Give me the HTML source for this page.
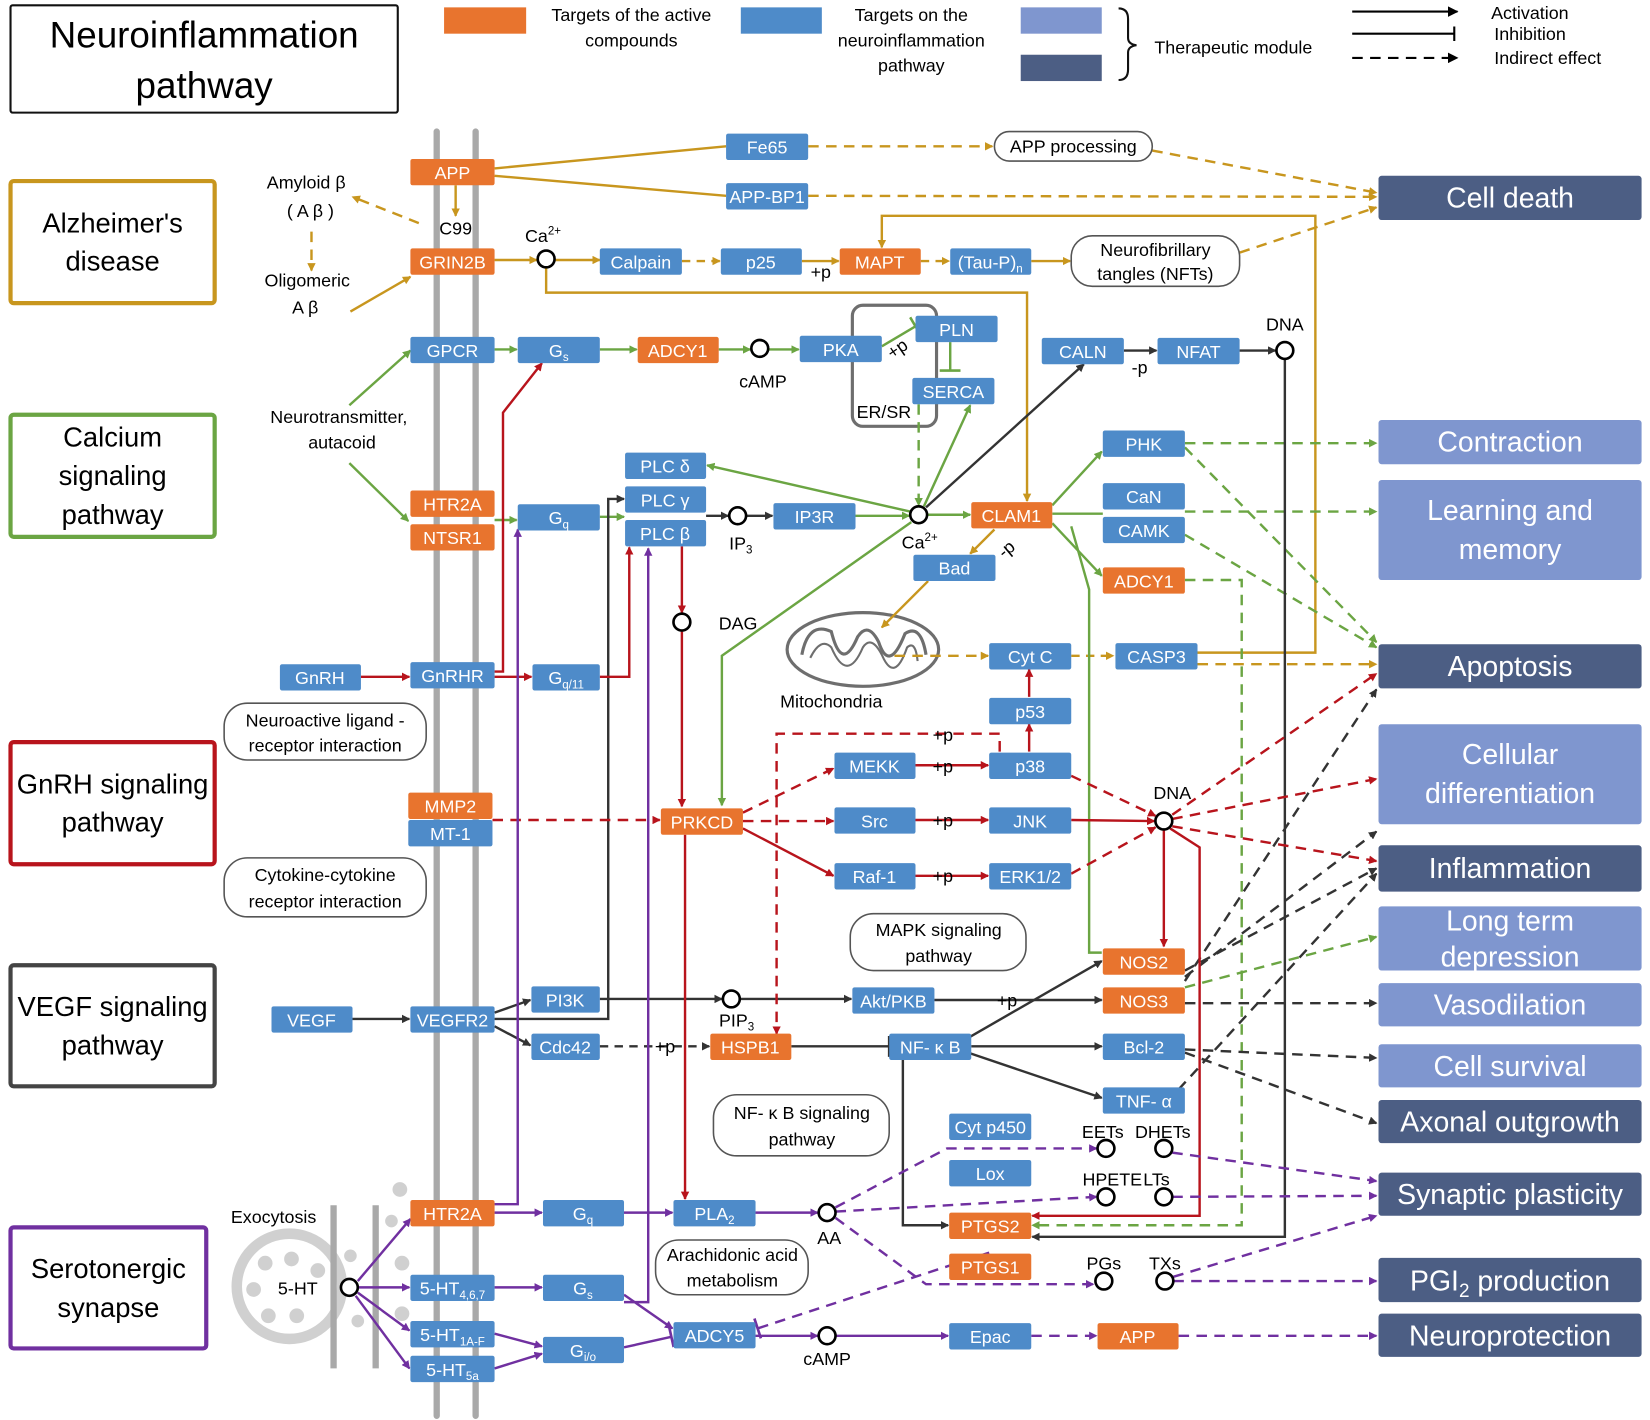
<!DOCTYPE html>
<html><head><meta charset="utf-8"><style>
html,body{margin:0;padding:0;background:#fff}
svg{display:block}
text{font-family:"Liberation Sans",sans-serif}
.n text{}
</style></head><body>
<svg width="1650" height="1420" viewBox="0 0 1568 1349" preserveAspectRatio="none" xmlns="http://www.w3.org/2000/svg">
<defs>
<marker id="aG" markerWidth="8" markerHeight="8" refX="7" refY="4" orient="auto" markerUnits="userSpaceOnUse"><path d="M0,0L8,4L0,8z" fill="#C8961E"/></marker>
<marker id="aN" markerWidth="8" markerHeight="8" refX="7" refY="4" orient="auto" markerUnits="userSpaceOnUse"><path d="M0,0L8,4L0,8z" fill="#6BA543"/></marker>
<marker id="aR" markerWidth="8" markerHeight="8" refX="7" refY="4" orient="auto" markerUnits="userSpaceOnUse"><path d="M0,0L8,4L0,8z" fill="#B8141C"/></marker>
<marker id="aK" markerWidth="8" markerHeight="8" refX="7" refY="4" orient="auto" markerUnits="userSpaceOnUse"><path d="M0,0L8,4L0,8z" fill="#333"/></marker>
<marker id="aP" markerWidth="8" markerHeight="8" refX="7" refY="4" orient="auto" markerUnits="userSpaceOnUse"><path d="M0,0L8,4L0,8z" fill="#7030A0"/></marker>
<marker id="iN" markerWidth="4" markerHeight="20" refX="2" refY="10" orient="auto" markerUnits="userSpaceOnUse"><path d="M2,0V20" stroke="#6BA543" stroke-width="2.5"/></marker>
<marker id="iK" markerWidth="4" markerHeight="20" refX="2" refY="10" orient="auto" markerUnits="userSpaceOnUse"><path d="M2,0V20" stroke="#333" stroke-width="2.5"/></marker>
<marker id="iP" markerWidth="4" markerHeight="20" refX="2" refY="10" orient="auto" markerUnits="userSpaceOnUse"><path d="M2,0V20" stroke="#7030A0" stroke-width="2.5"/></marker>
<marker id="aL" markerWidth="10" markerHeight="10" refX="9" refY="5" orient="auto" markerUnits="userSpaceOnUse"><path d="M0,0L10,5L0,10z" fill="#000"/></marker>
<marker id="iL" markerWidth="4" markerHeight="14" refX="2" refY="7" orient="auto" markerUnits="userSpaceOnUse"><path d="M2,0V14" stroke="#000" stroke-width="2"/></marker>
</defs>

<!-- title -->
<rect x="10" y="5" width="368" height="102" fill="#fff" stroke="#111" stroke-width="2" rx="2"/>
<text x="194" y="45" font-size="35" text-anchor="middle">Neuroinflammation</text>
<text x="194" y="93" font-size="35" text-anchor="middle">pathway</text>

<!-- legend -->
<rect x="422" y="7" width="78" height="25" fill="#E8742E"/>
<text x="600" y="20" font-size="17" text-anchor="middle">Targets of the active</text>
<text x="600" y="44" font-size="17" text-anchor="middle">compounds</text>
<rect x="704" y="7" width="77" height="25" fill="#4E8BC9"/>
<text x="866" y="20" font-size="17" text-anchor="middle">Targets on the</text>
<text x="866" y="44" font-size="17" text-anchor="middle">neuroinflammation</text>
<text x="866" y="68" font-size="17" text-anchor="middle">pathway</text>
<rect x="970" y="7" width="77" height="25" fill="#7F96CF"/>
<rect x="970" y="52" width="77" height="25" fill="#4C5E84"/>
<path d="M1063,8 Q1072,8 1072,18 V36 Q1072,42 1080,43 Q1072,44 1072,50 V66 Q1072,76 1063,76" fill="none" stroke="#111" stroke-width="2"/>
<text x="1097" y="51" font-size="17">Therapeutic module</text>
<line x1="1285" y1="11" x2="1385" y2="11" stroke="#000" stroke-width="2" marker-end="url(#aL)"/>
<line x1="1285" y1="32" x2="1382" y2="32" stroke="#000" stroke-width="2" marker-end="url(#iL)"/>
<line x1="1285" y1="55" x2="1385" y2="55" stroke="#000" stroke-width="2" stroke-dasharray="10,7" marker-end="url(#aL)"/>
<text x="1417" y="18" font-size="17">Activation</text>
<text x="1420" y="38" font-size="17">Inhibition</text>
<text x="1420" y="61" font-size="17">Indirect  effect</text>

<!-- membranes -->
<line x1="415" y1="125" x2="415" y2="1345" stroke="#A9A9A9" stroke-width="6" stroke-linecap="round"/>
<line x1="452" y1="125" x2="452" y2="1345" stroke="#A9A9A9" stroke-width="6" stroke-linecap="round"/>

<!-- left pathway boxes -->
<g font-size="26" text-anchor="middle" fill="#fff" stroke-width="4">
<rect x="10" y="172" width="194" height="116" stroke="#C8961E" rx="3"/>
<rect x="10" y="394" width="194" height="116" stroke="#6BA543" rx="3"/>
<rect x="10" y="705" width="194" height="116" stroke="#B8141C" rx="3"/>
<rect x="10" y="917" width="194" height="115" stroke="#444" rx="3"/>
<rect x="10" y="1166" width="186" height="115" stroke="#7030A0" rx="3"/>
</g>
<g font-size="26" text-anchor="middle">
<text x="107" y="221">Alzheimer's</text><text x="107" y="257">disease</text>
<text x="107" y="424">Calcium</text><text x="107" y="461">signaling</text><text x="107" y="498">pathway</text>
<text x="107" y="754">GnRH signaling</text><text x="107" y="790">pathway</text>
<text x="107" y="965">VEGF signaling</text><text x="107" y="1002">pathway</text>
<text x="103" y="1214">Serotonergic</text><text x="103" y="1251">synapse</text>
</g>

<!-- outcome modules -->
<g>
<rect x="1310" y="167" width="250" height="42" fill="#4C5E84" rx="3"/>
<rect x="1310" y="399" width="250" height="42" fill="#7F96CF" rx="3"/>
<rect x="1310" y="456" width="250" height="95" fill="#7F96CF" rx="3"/>
<rect x="1310" y="612" width="250" height="42" fill="#4C5E84" rx="3"/>
<rect x="1310" y="688" width="250" height="95" fill="#7F96CF" rx="3"/>
<rect x="1310" y="803" width="250" height="44" fill="#4C5E84" rx="3"/>
<rect x="1310" y="861" width="250" height="61" fill="#7F96CF" rx="3"/>
<rect x="1310" y="934" width="250" height="41" fill="#7F96CF" rx="3"/>
<rect x="1310" y="992" width="250" height="41" fill="#7F96CF" rx="3"/>
<rect x="1310" y="1045" width="250" height="41" fill="#4C5E84" rx="3"/>
<rect x="1310" y="1114" width="250" height="41" fill="#4C5E84" rx="3"/>
<rect x="1310" y="1195" width="250" height="42" fill="#4C5E84" rx="3"/>
<rect x="1310" y="1248" width="250" height="41" fill="#4C5E84" rx="3"/>
</g>
<g font-size="27" fill="#fff" text-anchor="middle">
<text x="1435" y="197">Cell death</text>
<text x="1435" y="429">Contraction</text>
<text x="1435" y="494">Learning and</text><text x="1435" y="531">memory</text>
<text x="1435" y="642">Apoptosis</text>
<text x="1435" y="726">Cellular</text><text x="1435" y="763">differentiation</text>
<text x="1435" y="834">Inflammation</text>
<text x="1435" y="884">Long term</text><text x="1435" y="918">depression</text>
<text x="1435" y="964">Vasodilation</text>
<text x="1435" y="1022">Cell survival</text>
<text x="1435" y="1075">Axonal outgrowth</text>
<text x="1435" y="1144">Synaptic plasticity</text>
<text x="1435" y="1226">PGI<tspan font-size="18" dy="6">2</tspan><tspan dy="-6"> production</tspan></text>
<text x="1435" y="1278">Neuroprotection</text>
</g>

<!-- ER/SR -->
<rect x="810" y="290" width="80" height="115" rx="10" fill="none" stroke="#6E6E6E" stroke-width="3"/>
<text x="814" y="397" font-size="17">ER/SR</text>

<!-- mitochondria -->
<ellipse cx="820" cy="617" rx="72" ry="35" fill="none" stroke="#6E6E6E" stroke-width="3"/>
<path d="M762,622 Q768,590 790,600 Q800,640 815,605 Q825,590 835,610 Q845,640 860,602 Q875,592 880,622" fill="none" stroke="#6E6E6E" stroke-width="3"/>
<path d="M770,625 Q780,605 790,615 Q805,650 820,615 Q828,603 838,622 Q850,650 862,615 Q870,608 872,628" fill="none" stroke="#6E6E6E" stroke-width="2"/>
<text x="790" y="672" font-size="17" text-anchor="middle">Mitochondria</text>

<!-- exocytosis -->
<circle cx="275" cy="1222" r="50" fill="#fff" stroke="#D0D0D0" stroke-width="10"/>
<g fill="#D0D0D0"><circle cx="252" cy="1200" r="7"/><circle cx="277" cy="1196" r="7"/><circle cx="241" cy="1225" r="7"/><circle cx="255" cy="1250" r="7"/><circle cx="282" cy="1250" r="7"/><circle cx="302" cy="1207" r="7"/>
<circle cx="380" cy="1130" r="7"/><circle cx="372" cy="1160" r="6"/><circle cx="333" cy="1193" r="6"/><circle cx="382" cy="1200" r="7"/><circle cx="382" cy="1248" r="7"/><circle cx="340" cy="1255" r="6"/></g>
<line x1="317" y1="1145" x2="317" y2="1300" stroke="#A9A9A9" stroke-width="6"/>
<line x1="357" y1="1145" x2="357" y2="1300" stroke="#A9A9A9" stroke-width="6"/>
<text x="260" y="1162" font-size="17" text-anchor="middle">Exocytosis</text>

<!-- ===== EDGES ===== -->
<g fill="none" stroke-width="2.3">
<!-- gold -->
<g stroke="#C8961E">
<path d="M470,160L690,139" /><path d="M470,167L690,186"/>
<path d="M768,139L943,139" stroke-dasharray="10,7" marker-end="url(#aG)"/>
<path d="M1095,143L1308,183" stroke-dasharray="10,7" marker-end="url(#aG)"/>
<path d="M768,186L1308,187" stroke-dasharray="10,7" marker-end="url(#aG)"/>
<path d="M433,176V205" marker-end="url(#aG)"/>
<path d="M398,212L335,187" stroke-dasharray="10,7" marker-end="url(#aG)"/>
<path d="M296,220V257" stroke-dasharray="10,7" marker-end="url(#aG)"/>
<path d="M333,296L390,263" marker-end="url(#aG)"/>
<path d="M470,247H510" marker-end="url(#aG)"/>
<path d="M528,247H570" marker-end="url(#aG)"/>
<path d="M648,248H684" stroke-dasharray="8,6" marker-end="url(#aG)"/>
<path d="M762,248H797" marker-end="url(#aG)"/>
<path d="M875,248H902" stroke-dasharray="8,6" marker-end="url(#aG)"/>
<path d="M980,248H1017" marker-end="url(#aG)"/>
<path d="M1178,240L1308,197" stroke-dasharray="10,7" marker-end="url(#aG)"/>
<path d="M519,255V278H976V476" marker-end="url(#aG)"/>
<path d="M1138,620H1250V205H838V235" marker-end="url(#aG)"/>
<path d="M1018,623H1058" stroke-dasharray="8,6" marker-end="url(#aG)"/>
<path d="M850,623H939" stroke-dasharray="10,7" marker-end="url(#aG)"/>
<path d="M945,503L922,526" marker-end="url(#aG)"/>
<path d="M882,552L838,596" marker-end="url(#aG)"/>
<path d="M1138,631L1308,631" stroke-dasharray="10,7" marker-end="url(#aG)"/>
</g>
<!-- green -->
<g stroke="#6BA543">
<path d="M332,385L390,333" marker-end="url(#aN)"/>
<path d="M332,440L388,495" marker-end="url(#aN)"/>
<path d="M470,332H491" marker-end="url(#aN)"/>
<path d="M570,332H605" marker-end="url(#aN)"/>
<path d="M683,332H713" marker-end="url(#aN)"/>
<path d="M730,332H759" marker-end="url(#aN)"/>
<path d="M838,329L870,310" marker-end="url(#iN)"/>
<path d="M903,325V352" marker-end="url(#iN)"/>
<path d="M873,384V480" stroke-dasharray="10,7" marker-end="url(#aN)"/>
<path d="M878,481L922,385" marker-end="url(#aN)"/>
<path d="M865,486L672,442" marker-end="url(#aN)"/>
<path d="M881,489H922" marker-end="url(#aN)"/>
<path d="M813,490H864" marker-end="url(#aN)"/>
<path d="M570,491H593" marker-end="url(#aN)"/>
<path d="M470,494H491" marker-end="url(#aN)"/>
<path d="M1000,480L1047,429" marker-end="url(#aN)"/>
<path d="M1000,488H1048"/>
<path d="M1000,497L1047,547" marker-end="url(#aN)"/>
<path d="M1018,500L1035,560V905H1047" />
<path d="M866,496L686,623V765" marker-end="url(#aN)"/>
<path d="M1126,421H1308" stroke-dasharray="10,7" marker-end="url(#aN)"/>
<path d="M1126,486H1308" stroke-dasharray="10,7" marker-end="url(#aN)"/>
<path d="M1126,425L1308,610" stroke-dasharray="10,7" marker-end="url(#aN)"/>
<path d="M1126,508L1308,615" stroke-dasharray="10,7" marker-end="url(#aN)"/>
<path d="M1126,551H1180V1164H981" stroke-dasharray="10,7" marker-end="url(#aN)"/>
<path d="M1126,938L1308,890" stroke-dasharray="10,7" marker-end="url(#aN)"/>
</g>
<!-- dark -->
<g stroke="#333">
<path d="M880,482L1030,346" marker-end="url(#aK)"/>
<path d="M1068,333H1099" marker-end="url(#aK)"/>
<path d="M1178,333H1212" marker-end="url(#aK)"/>
<path d="M1221,341V1175H981" marker-end="url(#aK)"/>
<path d="M671,490H692" marker-end="url(#aK)"/>
<path d="M709,490H734" marker-end="url(#aK)"/>
<path d="M335,968H389" marker-end="url(#aK)"/>
<path d="M470,962L504,950" marker-end="url(#aK)"/>
<path d="M470,975L504,993" marker-end="url(#aK)"/>
<path d="M470,968H578V474H593" marker-end="url(#aK)"/>
<path d="M570,949H686" marker-end="url(#aK)"/>
<path d="M703,949H809" marker-end="url(#aK)"/>
<path d="M888,950H1047" marker-end="url(#aK)"/>
<path d="M570,994H674" stroke-dasharray="8,6" marker-end="url(#aK)"/>
<path d="M752,994H845" marker-end="url(#iK)"/>
<path d="M920,986L1047,913" marker-end="url(#aK)"/>
<path d="M923,994H1047" marker-end="url(#aK)"/>
<path d="M920,1000L1047,1043" marker-end="url(#aK)"/>
<path d="M858,1007V1164H901" marker-end="url(#aK)"/>
<g stroke-dasharray="10,7">
<path d="M1126,932L1308,655" marker-end="url(#aK)"/>
<path d="M1126,928L1308,790" marker-end="url(#aK)"/>
<path d="M1126,922L1308,825" marker-end="url(#aK)"/>
<path d="M1120,1035L1308,830" marker-end="url(#aK)"/>
<path d="M1126,953H1308" marker-end="url(#aK)"/>
<path d="M1126,997L1308,1005" marker-end="url(#aK)"/>
<path d="M1126,1000L1308,1067" marker-end="url(#aK)"/>
</g>
</g>
<!-- red -->
<g stroke="#B8141C">
<path d="M343,643H389" marker-end="url(#aR)"/>
<path d="M470,638H478V392L515,345" marker-end="url(#aR)"/>
<path d="M470,643H505" marker-end="url(#aR)"/>
<path d="M570,643H598V520" marker-end="url(#aR)"/>
<path d="M648,519V582" marker-end="url(#aR)"/>
<path d="M648,600V766" marker-end="url(#aR)"/>
<path d="M468,779H627" stroke-dasharray="10,7" marker-end="url(#aR)"/>
<path d="M706,772L792,730" stroke-dasharray="10,7" marker-end="url(#aR)"/>
<path d="M706,780H792" stroke-dasharray="10,7" marker-end="url(#aR)"/>
<path d="M706,787L792,832" marker-end="url(#aR)"/>
<path d="M950,714V697H738V982" stroke-dasharray="10,7" marker-end="url(#aR)"/>
<path d="M870,727H939" marker-end="url(#aR)"/>
<path d="M870,779H939" marker-end="url(#aR)"/>
<path d="M870,832H939" marker-end="url(#aR)"/>
<path d="M978,714V688" marker-end="url(#aR)"/>
<path d="M978,662V636" marker-end="url(#aR)"/>
<path d="M1018,737L1098,775" stroke-dasharray="10,7" marker-end="url(#aR)"/>
<path d="M1018,779L1097,780" marker-end="url(#aR)"/>
<path d="M1018,830L1098,786" stroke-dasharray="10,7" marker-end="url(#aR)"/>
<path d="M1106,789V899" marker-end="url(#aR)"/>
<path d="M1112,787L1140,805V1155H981" marker-end="url(#aR)"/>
<path d="M651,793V1139" marker-end="url(#aR)"/>
<g stroke-dasharray="10,7">
<path d="M1114,774L1308,640" marker-end="url(#aR)"/>
<path d="M1114,778L1308,740" marker-end="url(#aR)"/>
<path d="M1114,785L1308,818" marker-end="url(#aR)"/>
</g>
</g>
<!-- purple -->
<g stroke="#7030A0">
<path d="M470,1152H515" marker-end="url(#aP)"/>
<path d="M593,1152H639" marker-end="url(#aP)"/>
<path d="M718,1152H777" marker-end="url(#aP)"/>
<path d="M470,1144H492V503" marker-end="url(#aP)"/>
<path d="M593,1237H616V521" marker-end="url(#aP)"/>
<path d="M340,1217L390,1158" marker-end="url(#aP)"/>
<path d="M341,1223H389" marker-end="url(#aP)"/>
<path d="M340,1228L389,1264" marker-end="url(#aP)"/>
<path d="M338,1231L389,1300" marker-end="url(#aP)"/>
<path d="M470,1223H515" marker-end="url(#aP)"/>
<path d="M470,1267L515,1279" marker-end="url(#aP)"/>
<path d="M470,1300L515,1286" marker-end="url(#aP)"/>
<path d="M593,1230L639,1262" marker-end="url(#aP)"/>
<path d="M593,1280L638,1270" marker-end="url(#iP)"/>
<path d="M718,1269H777" marker-end="url(#aP)"/>
<path d="M794,1269H901" marker-end="url(#aP)"/>
<g stroke-dasharray="10,7">
<path d="M980,1269H1042" marker-end="url(#aP)"/>
<path d="M1120,1269H1308" marker-end="url(#aP)"/>
<path d="M794,1147L900,1091H1042" marker-end="url(#aP)"/>
<path d="M794,1151L1042,1137" marker-end="url(#aP)"/>
<path d="M794,1157L880,1220H1039" marker-end="url(#aP)"/>
<path d="M1114,1095L1308,1122" marker-end="url(#aP)"/>
<path d="M1114,1137L1308,1136" marker-end="url(#aP)"/>
<path d="M1115,1217H1308" marker-end="url(#aP)"/>
<path d="M1115,1213L1308,1155" marker-end="url(#aP)"/>
<path d="M940,1190L720,1262" marker-end="url(#iP)"/>
</g>
</g>
</g>

<!-- circles -->
<g fill="#fff" stroke="#000" stroke-width="2.5">
<circle cx="519" cy="246" r="8"/><circle cx="722" cy="331" r="8"/><circle cx="701" cy="490" r="8"/>
<circle cx="873" cy="489" r="8"/><circle cx="648" cy="591" r="8"/><circle cx="1221" cy="333" r="8"/>
<circle cx="1106" cy="780" r="8"/><circle cx="695" cy="949" r="8"/><circle cx="786" cy="1152" r="8"/>
<circle cx="786" cy="1269" r="8"/><circle cx="1051" cy="1091" r="8"/><circle cx="1106" cy="1091" r="8"/>
<circle cx="1051" cy="1137" r="8"/><circle cx="1106" cy="1137" r="8"/><circle cx="1049" cy="1217" r="8"/>
<circle cx="1107" cy="1217" r="8"/><circle cx="332" cy="1223" r="8"/>
</g>

<!-- rounded note boxes -->
<g fill="#fff" stroke="#555" stroke-width="1.5">
<rect x="945" y="125" width="150" height="28" rx="14"/>
<rect x="1018" y="224" width="160" height="48" rx="20"/>
<rect x="213" y="668" width="192" height="54" rx="22"/>
<rect x="213" y="815" width="192" height="56" rx="22"/>
<rect x="808" y="868" width="167" height="54" rx="22"/>
<rect x="678" y="1040" width="167" height="58" rx="22"/>
<rect x="623" y="1178" width="145" height="52" rx="22"/>
</g>
<g font-size="17" text-anchor="middle">
<text x="1020" y="145">APP processing</text>
<text x="1098" y="243">Neurofibrillary</text><text x="1098" y="266">tangles (NFTs)</text>
<text x="309" y="690">Neuroactive ligand -</text><text x="309" y="714">receptor interaction</text>
<text x="309" y="837">Cytokine-cytokine</text><text x="309" y="862">receptor interaction</text>
<text x="892" y="889">MAPK signaling</text><text x="892" y="914">pathway</text>
<text x="762" y="1063">NF- κ B signaling</text><text x="762" y="1088">pathway</text>
<text x="696" y="1198">Arachidonic acid</text><text x="696" y="1222">metabolism</text>
</g>

<!-- free labels -->
<g font-size="17" text-anchor="middle">
<text x="291" y="179">Amyloid β</text><text x="295" y="206">( A β )</text>
<text x="292" y="272">Oligomeric</text><text x="290" y="298">A β</text>
<text x="433" y="223">C99</text>
<text x="516" y="230">Ca<tspan font-size="11" dy="-7">2+</tspan></text>
<text x="780" y="264">+p</text>
<text x="725" y="368">cAMP</text>
<text x="856" y="336" transform="rotate(-35 856 336)">+p</text>
<text x="1083" y="355">-p</text>
<text x="1221" y="314">DNA</text>
<text x="322" y="402">Neurotransmitter,</text><text x="325" y="426">autacoid</text>
<text x="704" y="522">IP<tspan font-size="11" dy="4">3</tspan></text>
<text x="874" y="521">Ca<tspan font-size="11" dy="-7">2+</tspan></text>
<text x="960" y="526" transform="rotate(-40 960 526)">-p</text>
<text x="683" y="598" text-anchor="start">DAG</text>
<text x="896" y="704">+p</text>
<text x="896" y="734">+p</text><text x="896" y="785">+p</text><text x="896" y="838">+p</text>
<text x="1114" y="759">DNA</text>
<text x="700" y="975">PIP<tspan font-size="11" dy="4">3</tspan></text>
<text x="957" y="956">+p</text>
<text x="632" y="1000">+p</text>
<text x="1048" y="1081">EETs</text><text x="1105" y="1081">DHETs</text>
<text x="1057" y="1126">HPETE</text><text x="1099" y="1126">LTs</text>
<text x="1049" y="1206">PGs</text><text x="1107" y="1206">TXs</text>
<text x="788" y="1182">AA</text>
<text x="786" y="1297">cAMP</text>
<text x="283" y="1230">5-HT</text>
</g>

<!-- ===== NODES ===== -->
<g fill="#E8742E">
<rect x="390" y="151" width="80" height="25" rx="2"/>
<rect x="390" y="236" width="80" height="25" rx="2"/>
<rect x="798" y="236" width="77" height="25" rx="2"/>
<rect x="606" y="320" width="77" height="25" rx="2"/>
<rect x="390" y="466" width="80" height="25" rx="2"/>
<rect x="390" y="498" width="80" height="25" rx="2"/>
<rect x="923" y="477" width="77" height="25" rx="2"/>
<rect x="1048" y="539" width="78" height="25" rx="2"/>
<rect x="388" y="753" width="80" height="25" rx="2"/>
<rect x="628" y="768" width="78" height="25" rx="2"/>
<rect x="1048" y="901" width="78" height="25" rx="2"/>
<rect x="1048" y="938" width="78" height="25" rx="2"/>
<rect x="675" y="982" width="77" height="25" rx="2"/>
<rect x="390" y="1140" width="80" height="25" rx="2"/>
<rect x="902" y="1152" width="78" height="25" rx="2"/>
<rect x="902" y="1191" width="78" height="25" rx="2"/>
<rect x="1043" y="1257" width="77" height="25" rx="2"/>
</g>
<g fill="#4E8BC9">
<rect x="690" y="127" width="78" height="25" rx="2"/>
<rect x="690" y="174" width="78" height="25" rx="2"/>
<rect x="570" y="236" width="78" height="25" rx="2"/>
<rect x="685" y="236" width="77" height="25" rx="2"/>
<rect x="903" y="236" width="77" height="25" rx="2"/>
<rect x="390" y="320" width="80" height="25" rx="2"/>
<rect x="492" y="320" width="78" height="25" rx="2"/>
<rect x="760" y="319" width="78" height="25" rx="2"/>
<rect x="870" y="300" width="78" height="25" rx="2"/>
<rect x="867" y="359" width="78" height="25" rx="2"/>
<rect x="990" y="321" width="78" height="25" rx="2"/>
<rect x="1100" y="321" width="78" height="25" rx="2"/>
<rect x="594" y="430" width="77" height="25" rx="2"/>
<rect x="594" y="462" width="77" height="25" rx="2"/>
<rect x="594" y="494" width="77" height="25" rx="2"/>
<rect x="492" y="479" width="78" height="25" rx="2"/>
<rect x="735" y="478" width="78" height="25" rx="2"/>
<rect x="1048" y="409" width="78" height="25" rx="2"/>
<rect x="1048" y="459" width="78" height="25" rx="2"/>
<rect x="1048" y="491" width="78" height="25" rx="2"/>
<rect x="868" y="527" width="78" height="25" rx="2"/>
<rect x="266" y="631" width="77" height="25" rx="2"/>
<rect x="390" y="629" width="80" height="25" rx="2"/>
<rect x="506" y="631" width="64" height="25" rx="2"/>
<rect x="940" y="611" width="78" height="25" rx="2"/>
<rect x="1060" y="611" width="78" height="25" rx="2"/>
<rect x="940" y="663" width="78" height="25" rx="2"/>
<rect x="793" y="715" width="77" height="25" rx="2"/>
<rect x="940" y="715" width="78" height="25" rx="2"/>
<rect x="388" y="779" width="80" height="25" rx="2"/>
<rect x="793" y="767" width="77" height="25" rx="2"/>
<rect x="940" y="767" width="78" height="25" rx="2"/>
<rect x="793" y="820" width="77" height="25" rx="2"/>
<rect x="940" y="820" width="78" height="25" rx="2"/>
<rect x="505" y="937" width="65" height="25" rx="2"/>
<rect x="810" y="938" width="78" height="25" rx="2"/>
<rect x="258" y="956" width="77" height="25" rx="2"/>
<rect x="390" y="956" width="80" height="25" rx="2"/>
<rect x="505" y="982" width="65" height="25" rx="2"/>
<rect x="845" y="982" width="78" height="25" rx="2"/>
<rect x="1048" y="982" width="78" height="25" rx="2"/>
<rect x="1048" y="1033" width="78" height="25" rx="2"/>
<rect x="902" y="1058" width="78" height="25" rx="2"/>
<rect x="902" y="1102" width="78" height="25" rx="2"/>
<rect x="516" y="1140" width="77" height="25" rx="2"/>
<rect x="640" y="1140" width="78" height="25" rx="2"/>
<rect x="390" y="1211" width="80" height="25" rx="2"/>
<rect x="516" y="1211" width="77" height="25" rx="2"/>
<rect x="390" y="1255" width="80" height="25" rx="2"/>
<rect x="516" y="1270" width="77" height="25" rx="2"/>
<rect x="390" y="1288" width="80" height="25" rx="2"/>
<rect x="640" y="1256" width="78" height="25" rx="2"/>
<rect x="902" y="1257" width="78" height="25" rx="2"/>
</g>
<g font-size="17" fill="#fff" text-anchor="middle">
<text x="430" y="170">APP</text><text x="430" y="255">GRIN2B</text><text x="836" y="255">MAPT</text>
<text x="644" y="339">ADCY1</text><text x="430" y="485">HTR2A</text><text x="430" y="517">NTSR1</text>
<text x="961" y="496">CLAM1</text><text x="1087" y="558">ADCY1</text><text x="428" y="772">MMP2</text>
<text x="667" y="787">PRKCD</text><text x="1087" y="920">NOS2</text><text x="1087" y="957">NOS3</text>
<text x="713" y="1001">HSPB1</text><text x="430" y="1159">HTR2A</text><text x="941" y="1171">PTGS2</text>
<text x="941" y="1210">PTGS1</text><text x="1081" y="1276">APP</text>
<text x="729" y="146">Fe65</text><text x="729" y="193">APP-BP1</text><text x="609" y="255">Calpain</text>
<text x="723" y="255">p25</text><text x="941" y="255">(Tau-P)<tspan font-size="11" dy="4">n</tspan></text>
<text x="430" y="339">GPCR</text><text x="531" y="339">G<tspan font-size="11" dy="4">s</tspan></text>
<text x="799" y="338">PKA</text><text x="909" y="319">PLN</text><text x="906" y="378">SERCA</text>
<text x="1029" y="340">CALN</text><text x="1139" y="340">NFAT</text>
<text x="632" y="449">PLC δ</text><text x="632" y="481">PLC γ</text><text x="632" y="513">PLC β</text>
<text x="531" y="498">G<tspan font-size="11" dy="4">q</tspan></text><text x="774" y="497">IP3R</text>
<text x="1087" y="428">PHK</text><text x="1087" y="478">CaN</text><text x="1087" y="510">CAMK</text>
<text x="907" y="546">Bad</text><text x="304" y="650">GnRH</text><text x="430" y="648">GnRHR</text>
<text x="538" y="650">G<tspan font-size="11" dy="4">q/11</tspan></text>
<text x="979" y="630">Cyt C</text><text x="1099" y="630">CASP3</text><text x="979" y="682">p53</text>
<text x="831" y="734">MEKK</text><text x="979" y="734">p38</text><text x="428" y="798">MT-1</text>
<text x="831" y="786">Src</text><text x="979" y="786">JNK</text>
<text x="831" y="839">Raf-1</text><text x="979" y="839">ERK1/2</text>
<text x="537" y="956">PI3K</text><text x="849" y="957">Akt/PKB</text><text x="296" y="975">VEGF</text>
<text x="430" y="975">VEGFR2</text><text x="537" y="1001">Cdc42</text><text x="884" y="1001">NF- κ B</text>
<text x="1087" y="1001">Bcl-2</text><text x="1087" y="1052">TNF- α</text>
<text x="941" y="1077">Cyt p450</text><text x="941" y="1121">Lox</text>
<text x="554" y="1159">G<tspan font-size="11" dy="4">q</tspan></text>
<text x="679" y="1159">PLA<tspan font-size="11" dy="4">2</tspan></text>
<text x="430" y="1230">5-HT<tspan font-size="11" dy="4">4,6,7</tspan></text>
<text x="554" y="1230">G<tspan font-size="11" dy="4">s</tspan></text>
<text x="430" y="1274">5-HT<tspan font-size="11" dy="4">1A-F</tspan></text>
<text x="554" y="1289">G<tspan font-size="11" dy="4">i/o</tspan></text>
<text x="430" y="1307">5-HT<tspan font-size="11" dy="4">5a</tspan></text>
<text x="679" y="1275">ADCY5</text><text x="941" y="1276">Epac</text>
</g>
</svg>
</body></html>
